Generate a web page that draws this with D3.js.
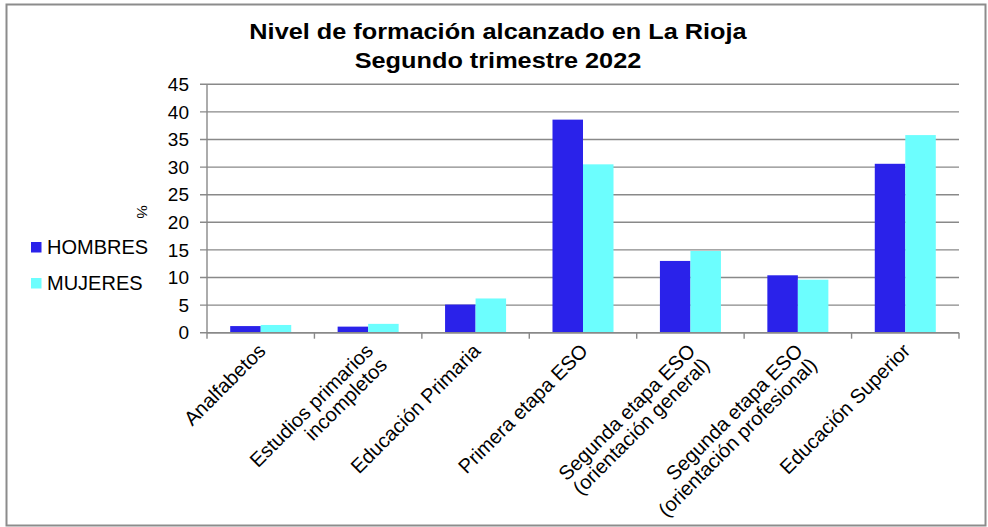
<!DOCTYPE html>
<meta charset="utf-8">
<style>
body{
    margin: 0;
    background: #fff;
}
svg{
    display: block;
    font-family: Arial, "Liberation Sans", sans-serif;
}
</style>
<body>
    <script src="https://d3js.org/d3.v7.min.js"></script>
    <script>
        // datos (%)
        const categorias = [
            ["Analfabetos"],
            ["Estudios primarios", "incompletos"],
            ["Educación Primaria"],
            ["Primera etapa ESO"],
            ["Segunda etapa ESO", "(orientación general)"],
            ["Segunda etapa ESO", "(orientación profesional)"],
            ["Educación Superior"]
        ];
        const series = ["HOMBRES", "MUJERES"];
        const hombres = [1.2, 1.1, 5.1, 38.6, 13.0, 10.4, 30.6];
        const mujeres = [1.4, 1.6, 6.2, 30.5, 14.8, 9.6, 35.8];
        const yTicks = [0, 5, 10, 15, 20, 25, 30, 35, 40, 45];
        const colores = ["#2a22ea", "#6cfefe"];

        let width = 988;
        let height = 527;
        const plotLeft = 207, plotRight = 959, plotTop = 84.3, plotBottom = 332.7;

        const svg = d3.select("body")
                    .append("svg")
                    .attr("width", width)
                    .attr("height", height);

        // marco
        svg.append("rect")
            .attr("x", 6.5).attr("y", 4.5)
            .attr("width", 979).attr("height", 521)
            .attr("fill", "#fff")
            .attr("stroke", "#8c8c8c")
            .attr("stroke-width", 2);

        // título (la fuente del original es algo más ancha)
        const title = svg.append("text")
            .attr("transform", "translate(498,0) scale(1.15,1)")
            .attr("text-anchor", "middle")
            .style("font-size", "22px")
            .style("font-weight", "bold");
        title.append("tspan").attr("x", 0).attr("y", 39.5).text("Nivel de formación alcanzado en La Rioja");
        title.append("tspan").attr("x", 0).attr("y", 68.5).text("Segundo trimestre 2022");

        const claves = categorias.map(c => c.join(" "));
        const x0 = d3.scaleBand()
                    .domain(claves)
                    .range([plotLeft, plotRight])
                    .paddingInner(0.432)
                    .paddingOuter(0.216);
        const x1 = d3.scaleBand()
                    .domain(series)
                    .range([0, x0.bandwidth()]);
        const y = d3.scaleLinear()
                    .domain([0, 45])
                    .range([plotBottom, plotTop]);

        // rejilla
        svg.append("g")
            .selectAll("line")
            .data(yTicks)
            .join("line")
            .attr("x1", plotLeft - 7).attr("x2", plotRight)
            .attr("y1", d => y(d)).attr("y2", d => y(d))
            .attr("stroke", "#898989")
            .attr("stroke-width", 1.4);

        // etiquetas eje y
        svg.append("g")
            .selectAll("text")
            .data(yTicks)
            .join("text")
            .attr("x", 189)
            .attr("y", d => y(d))
            .attr("dy", "0.35em")
            .attr("text-anchor", "end")
            .style("font-size", "19px")
            .text(d => d);

        // barras
        const datos = claves.map((c, i) => ({cat: c, vals: [hombres[i], mujeres[i]]}));
        svg.append("g")
            .selectAll("g")
            .data(datos)
            .join("g")
            .attr("transform", d => `translate(${x0(d.cat)},0)`)
            .selectAll("rect")
            .data(d => d.vals.map((v, j) => ({s: series[j], v: v, j: j})))
            .join("rect")
            .attr("x", d => x1(d.s))
            .attr("y", d => y(d.v))
            .attr("width", x1.bandwidth())
            .attr("height", d => y(0) - y(d.v))
            .attr("fill", d => colores[d.j]);

        // ejes
        svg.append("line")
            .attr("x1", plotLeft).attr("x2", plotLeft)
            .attr("y1", plotTop).attr("y2", plotBottom)
            .attr("stroke", "#898989").attr("stroke-width", 1.4);
        const step = x0.step();
        svg.append("g")
            .selectAll("line")
            .data(d3.range(categorias.length + 1))
            .join("line")
            .attr("x1", d => plotLeft + d * step).attr("x2", d => plotLeft + d * step)
            .attr("y1", plotBottom).attr("y2", plotBottom + 6)
            .attr("stroke", "#898989").attr("stroke-width", 1.4);
        svg.append("line")
            .attr("x1", plotLeft).attr("x2", plotRight)
            .attr("y1", plotBottom).attr("y2", plotBottom)
            .attr("stroke", "#898989").attr("stroke-width", 1.4);

        // etiquetas de categoría giradas, alineadas a la derecha
        const lineH = 20, capH = 14.3;
        svg.append("g")
            .selectAll("text")
            .data(categorias)
            .join("text")
            .attr("transform", (d, i) => `translate(${x0(claves[i]) + x0.bandwidth() / 2 - 4},342) rotate(-45)`)
            .attr("text-anchor", "end")
            .style("font-size", "20px")
            .selectAll("tspan")
            .data(d => d)
            .join("tspan")
            .attr("x", 0)
            .attr("y", (l, k) => capH + k * lineH)
            .text(l => l);

        // unidad
        svg.append("text")
            .attr("transform", "translate(137,212) rotate(90)")
            .attr("text-anchor", "middle")
            .style("font-size", "15px")
            .text("%");

        // leyenda
        const leyenda = svg.append("g")
            .selectAll("g")
            .data(series)
            .join("g")
            .attr("transform", (d, i) => `translate(31,${242 + i * 36})`);
        leyenda.append("rect")
            .attr("width", 10.5).attr("height", 10.5)
            .attr("fill", (d, i) => colores[i]);
        leyenda.append("text")
            .attr("x", 16).attr("y", 12)
            .style("font-size", "20px")
            .text(d => d);
    </script>
</body>
</html>
